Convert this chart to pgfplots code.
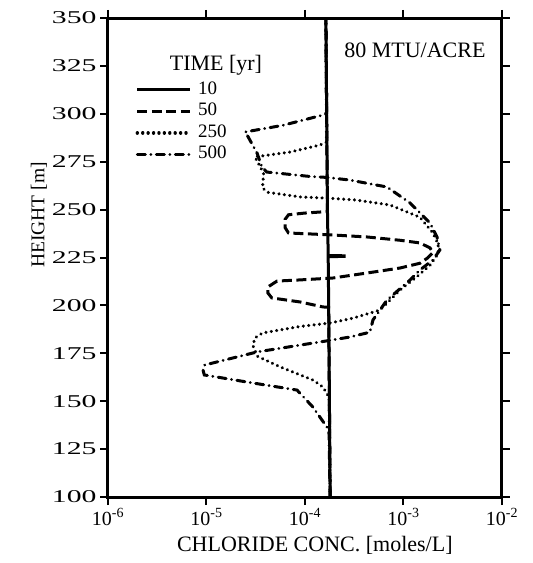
\documentclass[border=0pt]{standalone}
\usepackage{fontspec}
\setmainfont{Liberation Serif}
\usepackage{graphicx}
\usepackage{pgfplots}
\pgfplotsset{compat=1.18}
\begin{document}
\begin{tikzpicture}[x=1pt,y=1pt]
\begin{axis}[
  at={(0,0)}, anchor=south west,
  scale only axis, width=394pt, height=479pt,
  xmode=log, xmin=1e-6, xmax=1e-2, ymin=100, ymax=350,
  xtick={1e-6,1e-5,1e-4,1e-3,1e-2},
  xticklabels={10\textsuperscript{-6},10\textsuperscript{-5},10\textsuperscript{-4},10\textsuperscript{-3},10\textsuperscript{-2}},
  xminorticks=false,
  ytick={100,125,150,175,200,225,250,275,300,325,350},
  yticklabel={\scalebox{1.65}[1]{\pgfmathprintnumber{\tick}}},
  tick align=outside, tick pos=both,
  major tick length=8pt,
  axis line style={line width=3pt},
  every tick/.style={line width=2pt, black},
  xticklabel style={font=\fontsize{20}{22}\selectfont},
  yticklabel style={font=\fontsize{18}{20}\selectfont, /pgf/number format/assume math mode=true, /pgf/number format/1000 sep={}},
  xlabel={CHLORIDE CONC. [moles/L]},
  ylabel={HEIGHT [m]},
  xlabel style={font=\fontsize{22}{24}\selectfont, at={(axis description cs:0.525,-0.075)}, anchor=north},
  ylabel style={font=\fontsize{19.5}{21}\selectfont, at={(axis description cs:-0.175,0.589)}, anchor=center},
  legend style={at={(axis description cs:0.062,0.877)}, anchor=north west, draw=none, fill=none,
    font=\fontsize{19}{21}\selectfont,
    nodes={inner sep=2pt, text height=13pt, text depth=4pt}, row sep=0.6pt, column sep=4pt},
  legend cell align=left,
  legend image code/.code={\draw[#1] (0pt,0pt) -- (53pt,0pt);},
]
% 10 yr
\addplot[black, line width=3pt] coordinates {
(1.80e-4,100) (1.77e-4,150) (1.74e-4,200) (1.72e-4,225.4) (2.5e-4,225.6) (2.5e-4,225.9) (1.72e-4,226.0) (1.69e-4,250) (1.66e-4,300) (1.63e-4,350)};
\addlegendentry{10}
% 50 yr
\addplot[black, line width=3pt, dash pattern=on 10pt off 4.5pt] coordinates {
(1.80e-4,100) (1.74e-4,199) (1.52e-4,199.2) (8.9e-5,201.8) (4.6e-5,203.9) (4.2e-5,206.5) (4.2e-5,209.6) (5.2e-5,212.7) (8.9e-5,213.3) (1.92e-4,214.3) (4.26e-4,216.9) (9.2e-4,219.5) (1.47e-3,222) (1.75e-3,224.7) (1.99e-3,227.5) (1.86e-3,230) (1.47e-3,232.6) (9.2e-4,234) (4.3e-4,235.7) (1.85e-4,236.8) (6.8e-5,237.8) (6.3e-5,240.5) (6.3e-5,245) (6.8e-5,247.3) (1.0e-4,248.2) (1.69e-4,249) (1.66e-4,300) (1.63e-4,350)};
\addlegendentry{50}
% 250 yr
\addplot[black, line width=3.4pt, line cap=round, dash pattern=on 0.01pt off 5.4pt] coordinates {
(1.80e-4,100) (1.76e-4,152) (1.52e-4,157.4) (1.21e-4,161) (5.6e-5,167.9) (3.3e-5,173.4) (2.96e-5,179) (3.1e-5,183) (3.7e-5,185.6) (8.9e-5,189) (1.8e-4,190.8) (3.1e-4,193.4) (5.8e-4,197.6) (9.2e-4,208) (1.37e-3,215) (1.86e-3,221) (2.25e-3,227) (2.25e-3,232) (1.99e-3,237.8) (1.47e-3,246) (7.3e-4,252.4) (3.3e-4,255) (1.8e-4,255.9) (9e-5,256.6) (4.2e-5,259) (3.7e-5,261.3) (3.8e-5,269) (3.1e-5,277.5) (7.0e-5,280) (1.42e-4,283.7) (1.66e-4,285.3) (1.63e-4,350)};
\addlegendentry{250}
% 500 yr
\addplot[black, line width=3pt, line cap=round, dash pattern=on 8pt off 5.5pt on 0.01pt off 5.5pt] coordinates {
(1.80e-4,100) (1.75e-4,135) (1.2e-4,147) (8.3e-5,155.8) (2.58e-5,160) (9.5e-6,163.7) (9.2e-6,166.5) (9.6e-6,168.9) (3.26e-5,175.7) (1.67e-4,181.5) (2.86e-4,183.5) (4.56e-4,186) (4.9e-4,192.4) (6.8e-4,202.8) (1.17e-3,213.3) (1.47e-3,218.5) (1.99e-3,223.7) (2.34e-3,228.9) (2.19e-3,235.7) (1.86e-3,243) (1.17e-3,253.4) (6.8e-4,261.8) (2.86e-4,265.4) (1.67e-4,266.8) (1.12e-4,267.3) (4.1e-5,269.6) (3.66e-5,272.2) (3.26e-5,279.5) (2.58e-5,289) (2.46e-5,290.5) (5.98e-5,294) (1.53e-4,299.4) (1.66e-4,300.4) (1.63e-4,350)};
\addlegendentry{500}
\node[font=\fontsize{22}{24}\selectfont, anchor=center] at (axis description cs:0.274,0.902) {TIME [yr]};
\node[font=\fontsize{22}{24}\selectfont, anchor=center] at (axis description cs:0.779,0.933) {80 MTU/ACRE};
\end{axis}
\path (-108,-66) rectangle (425,497);
\end{tikzpicture}
\end{document}
